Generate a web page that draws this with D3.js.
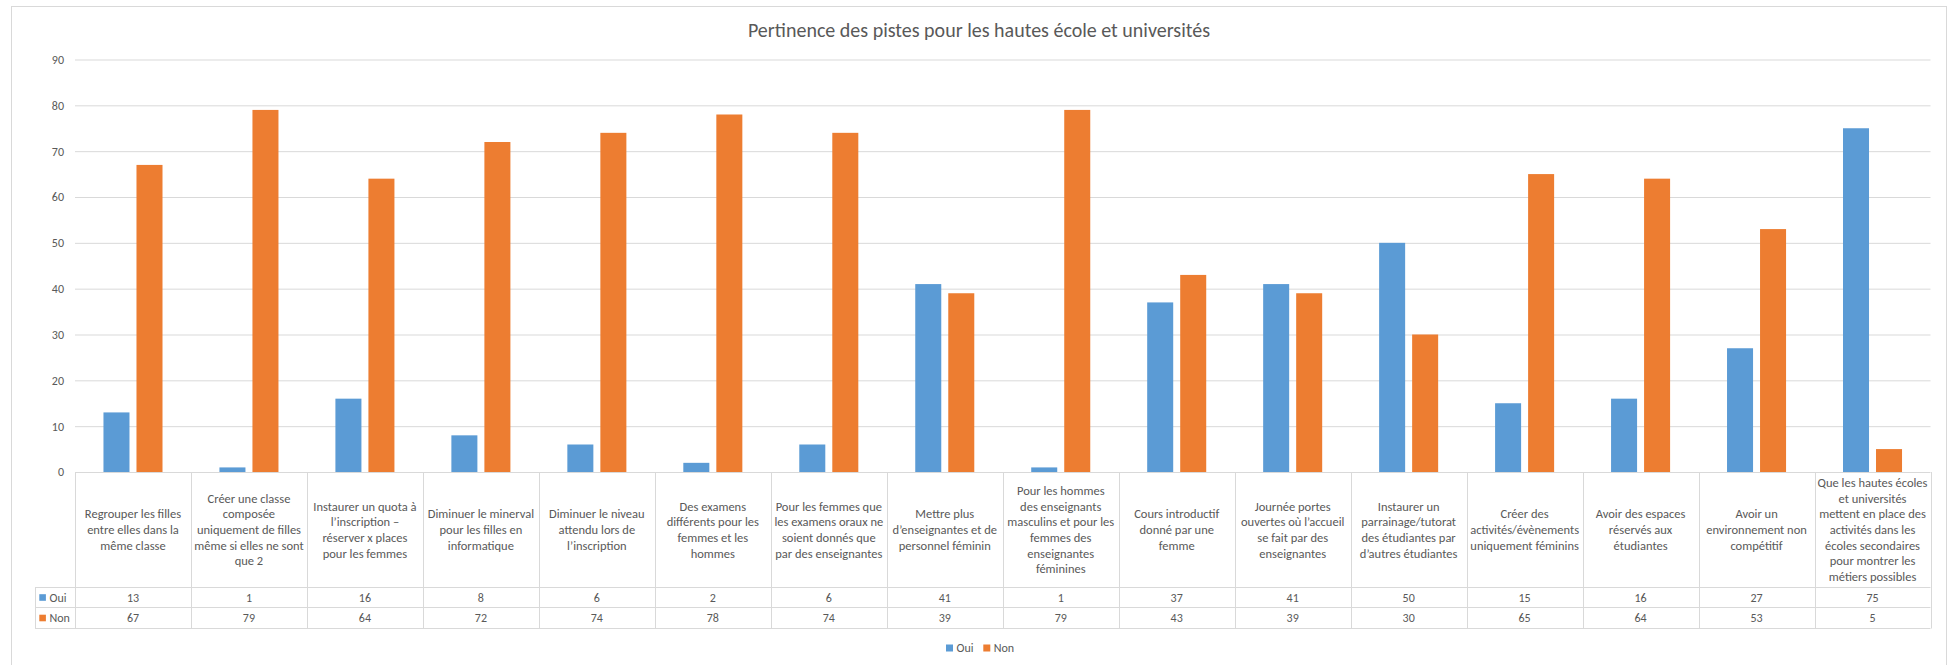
<!DOCTYPE html>
<html>
<head>
<meta charset="utf-8">
<script src="https://cdn.jsdelivr.net/npm/d3@7"></script>
<style>
  html, body { margin: 0; padding: 0; background: #fff; }
  svg { display: block; }
  text { font-family: Carlito, Calibri, Lato, "Liberation Sans", sans-serif; fill: #595959; }
</style>
</head>
<body>
<svg id="chart" width="1955" height="665"></svg>
<script>
const title = "Pertinence des pistes pour les hautes école et universités";
const categories = [
  "Regrouper les filles\nentre elles dans la\nmême classe",
  "Créer une classe\ncomposée\nuniquement de filles\nmême si elles ne sont\nque 2",
  "Instaurer un quota à\nl’inscription –\nréserver x places\npour les femmes",
  "Diminuer le minerval\npour les filles en\ninformatique",
  "Diminuer le niveau\nattendu lors de\nl’inscription",
  "Des examens\ndifférents pour les\nfemmes et les\nhommes",
  "Pour les femmes  que\nles examens oraux ne\nsoient donnés que\npar des enseignantes",
  "Mettre plus\nd’enseignantes et de\npersonnel féminin",
  "Pour les hommes\ndes enseignants\nmasculins et pour les\nfemmes des\nenseignantes\nféminines",
  "Cours introductif\ndonné par une\nfemme",
  "Journée portes\nouvertes où l’accueil\nse fait par des\nenseignantes",
  "Instaurer un\nparrainage/tutorat\ndes étudiantes par\nd’autres étudiantes",
  "Créer des\nactivités/évènements\nuniquement féminins",
  "Avoir des espaces\nréservés aux\nétudiantes",
  "Avoir un\nenvironnement non\ncompétitif",
  "Que les hautes écoles\net universités\nmettent en place des\nactivités dans les\nécoles secondaires\npour montrer les\nmétiers possibles"
];
const seriesNames = ["Oui", "Non"];
const oui = [13, 1, 16, 8, 6, 2, 6, 41, 1, 37, 41, 50, 15, 16, 27, 75];
const non = [67, 79, 64, 72, 74, 78, 74, 39, 79, 43, 39, 30, 65, 64, 53, 5];
const yTicks = [0, 10, 20, 30, 40, 50, 60, 70, 80, 90];
const colors = ["#5B9BD5", "#ED7D31"];

const series = [oui, non];
const svg = d3.select("#chart");
const W = 1955, H = 665;
const grid = "#D9D9D9";

svg.append("rect").attr("width", W).attr("height", H).attr("fill", "#fff");
svg.append("rect").attr("x", 11.5).attr("y", 6.5).attr("width", 1935).attr("height", 700)
  .attr("fill", "none").attr("stroke", grid);

// scales
const plotL = 75, plotR = 1930.5, yTop = 59.5, y0 = 472;
const x = d3.scaleBand().domain(d3.range(categories.length)).range([plotL, plotR]).paddingInner(0).paddingOuter(0);
const y = d3.scaleLinear().domain([0, 90]).range([y0, yTop]);
const groupW = x.bandwidth() * 0.509;
const xs = d3.scaleBand().domain(seriesNames).range([-groupW / 2, groupW / 2]).paddingInner(0.2121);

// title
svg.append("text").attr("x", 979).attr("y", 37).attr("text-anchor", "middle")
  .style("font-size", "20px").text(title);

// gridlines
const yAxis = d3.axisLeft(y).tickValues(yTicks).tickSize(-(plotR - plotL)).tickPadding(11).tickFormat(d3.format("d"));
const ga = svg.append("g").attr("transform", `translate(${plotL},0)`).call(yAxis);
ga.select(".domain").remove();
ga.selectAll(".tick line").attr("stroke", grid).attr("stroke-width", 1)
  .filter(d => d === 0).remove();
ga.selectAll(".tick text").style("font-size", "12px").attr("fill", "#595959").style("font-family", null);

// bars
seriesNames.forEach((s, si) => {
  svg.append("g").selectAll("rect").data(series[si]).join("rect")
    .attr("x", (d, i) => x(i) + x.bandwidth() / 2 + xs(s))
    .attr("width", xs.bandwidth())
    .attr("y", d => y(d))
    .attr("height", d => y0 - y(d))
    .attr("fill", colors[si]);
});

// data table
const rowCatBot = 587.5, rowOuiBot = 607.5, rowNonBot = 628.5, tableL = 35;
const tg = svg.append("g").attr("stroke", grid).attr("stroke-width", 1);
tg.append("line").attr("x1", plotL).attr("x2", plotR).attr("y1", y0 + 0.5).attr("y2", y0 + 0.5);
[rowCatBot, rowOuiBot, rowNonBot].forEach(yy =>
  tg.append("line").attr("x1", tableL).attr("x2", plotR).attr("y1", yy).attr("y2", yy));
const bounds = d3.range(categories.length + 1).map(i => i < categories.length ? x(i) : plotR);
bounds.forEach(bx => tg.append("line").attr("x1", Math.round(bx) + 0.5).attr("x2", Math.round(bx) + 0.5)
  .attr("y1", y0).attr("y2", rowNonBot));
tg.append("line").attr("x1", tableL + 0.5).attr("x2", tableL + 0.5).attr("y1", rowCatBot).attr("y2", rowNonBot);

// category labels
const lh = 15.7, catMid = (y0 + rowCatBot) / 2;
categories.forEach((c, i) => {
  const lines = c.split("\n");
  const cx = x(i) + x.bandwidth() / 2;
  const t = svg.append("text").attr("text-anchor", "middle").style("font-size", "12.5px");
  lines.forEach((ln, k) => {
    const ts = t.append("tspan").attr("x", cx)
      .attr("y", catMid + (k - (lines.length - 1) / 2) * lh + 4.3)
      .text(ln);
    const w = ts.node().getComputedTextLength();
    if (w > x.bandwidth() - 4) ts.attr("textLength", x.bandwidth() - 4).attr("lengthAdjust", "spacingAndGlyphs");
  });
});

// values
const rowMids = [(rowCatBot + rowOuiBot) / 2, (rowOuiBot + rowNonBot) / 2];
series.forEach((vals, si) => {
  svg.append("g").selectAll("text").data(vals).join("text")
    .attr("x", (d, i) => x(i) + x.bandwidth() / 2)
    .attr("y", rowMids[si] + 4.2)
    .attr("text-anchor", "middle").style("font-size", "12px")
    .text(d => d);
  svg.append("rect").attr("x", 39.3).attr("y", rowMids[si] - 3.3).attr("width", 6.6).attr("height", 6.6).attr("fill", colors[si]);
  svg.append("text").attr("x", 49.5).attr("y", rowMids[si] + 4.2).style("font-size", "12px").text(seriesNames[si]);
});

// legend
const lx = [946, 983.3];
seriesNames.forEach((s, si) => {
  svg.append("rect").attr("x", lx[si]).attr("y", 644.5).attr("width", 7).attr("height", 7).attr("fill", colors[si]);
  svg.append("text").attr("x", lx[si] + 10.5).attr("y", 652).style("font-size", "12px").text(s);
});
</script>
</body>
</html>
